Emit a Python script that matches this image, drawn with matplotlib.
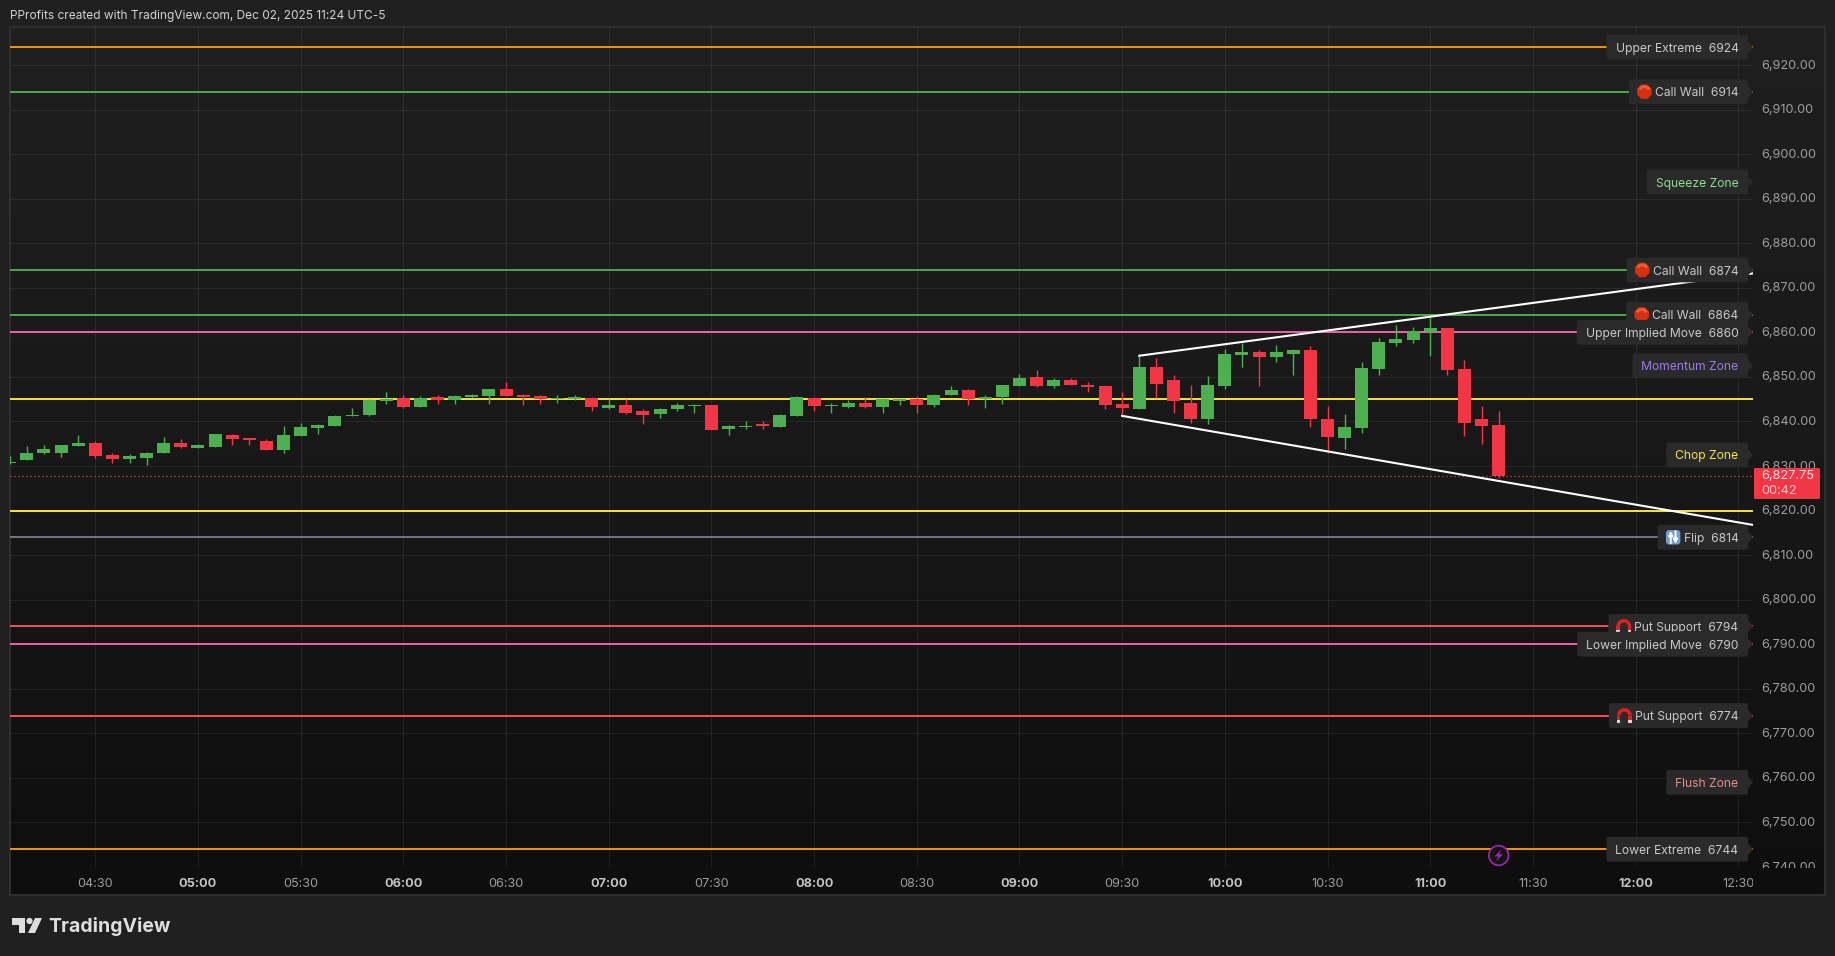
import matplotlib
matplotlib.use("Agg")
import matplotlib.pyplot as plt
from matplotlib.patches import Circle, FancyBboxPatch, Polygon, Rectangle, RegularPolygon, Wedge
from matplotlib.transforms import Bbox, ScaledTranslation
import numpy as np

plt.rcParams['font.family'] = ['Inter', 'DejaVu Sans']

# 5 minute candles, first one at 04:05 (minutes since midnight)
first_candle = 245
opens = [6830.75, 6831.25, 6833, 6833, 6834.5, 6835.25, 6832.5, 6831.5, 6831.75, 6833, 6835.25, 6834,
         6834.25, 6837, 6836.25, 6835.5, 6833.5, 6836.75, 6838.5, 6839, 6841.25, 6841.5, 6844.5, 6845.25,
         6843.25, 6845.5, 6844.75, 6845.5, 6845.75, 6847.25, 6846, 6845.75, 6845, 6845, 6845.25, 6843,
         6843.75, 6842.25, 6841.75, 6842.75, 6843.5, 6843.75, 6838.25, 6838.75, 6839.5, 6838.75, 6841.25, 6845.25,
         6843.5, 6843.25, 6844.25, 6843.25, 6844.5, 6845, 6843.75, 6846, 6847, 6845, 6845.5, 6848,
         6850, 6848, 6849.25, 6848.25, 6848, 6844, 6842.75, 6852.25, 6849.25, 6844.25, 6840.5, 6848,
         6855, 6855.5, 6854.5, 6855.25, 6856, 6840.5, 6836.25, 6838.5, 6851.75, 6857.5, 6858.25, 6860,
         6861, 6851.75, 6840.5, 6839.25]
highs = [6832.25, 6834.5, 6834.75, 6834.75, 6837, 6835.5, 6833, 6832.75, 6833.25, 6836.5, 6836, 6835,
         6837.25, 6837.25, 6836.25, 6836, 6839, 6839.75, 6839.5, 6841.5, 6843, 6845, 6846.5, 6846,
         6845.75, 6846, 6846, 6846.25, 6847.25, 6848.75, 6846.25, 6846, 6846, 6846, 6845.5, 6845,
         6845, 6842.75, 6843, 6844.25, 6844, 6843.75, 6839.25, 6840, 6840, 6841.75, 6845.75, 6845.5,
         6844.25, 6844.75, 6845.5, 6845.25, 6845.25, 6845.75, 6846.25, 6848, 6847.25, 6846, 6848.25, 6850.75,
         6851.5, 6849.75, 6849.75, 6848.75, 6848.25, 6846.5, 6854.75, 6854.25, 6850.5, 6848.25, 6850.25, 6856.25,
         6857.5, 6856, 6857.25, 6856.25, 6857, 6843.5, 6841.75, 6853.25, 6858.75, 6861.75, 6861.25, 6863.5,
         6861, 6853.75, 6843.5, 6842.25]
lows = [6830.5, 6831.25, 6832.75, 6832, 6834.5, 6831.75, 6830.75, 6830.75, 6830.25, 6833, 6834, 6834,
        6834.25, 6834.75, 6834.75, 6833.5, 6833, 6836.75, 6837.25, 6839, 6841.25, 6841.25, 6844, 6843,
        6843.25, 6844, 6844, 6845.25, 6844, 6845.75, 6843.75, 6844, 6844.25, 6844.75, 6842.25, 6842.75,
        6841.75, 6839.5, 6840.75, 6842.25, 6842, 6838, 6837, 6838.25, 6838.25, 6838.75, 6841.25, 6842.25,
        6842, 6843, 6843, 6842, 6843.75, 6842, 6843.25, 6846, 6843.75, 6843, 6844, 6848,
        6847.75, 6847.5, 6848.25, 6846.5, 6842.75, 6841.25, 6842.75, 6845.25, 6842, 6839.75, 6839.5, 6847.25,
        6852.25, 6848, 6853.25, 6850.5, 6838.75, 6833, 6833.75, 6837.5, 6850.5, 6857, 6857.5, 6854.75,
        6850.5, 6836.75, 6835, 6827.25]
closes = [6831, 6833, 6833.75, 6834.75, 6835.25, 6832.25, 6831.5, 6832.25, 6833, 6835.25, 6834.25, 6834.75,
          6837.25, 6836, 6835.75, 6833.5, 6837, 6838.75, 6839.25, 6841.25, 6841.5, 6844.75, 6845, 6843.25,
          6845.25, 6844.75, 6845.75, 6846, 6847.25, 6845.75, 6845.5, 6845, 6845.25, 6845.5, 6843.25, 6843.75,
          6842, 6841.5, 6842.75, 6843.75, 6843.75, 6838, 6839, 6839, 6839, 6841.5, 6845.5, 6843.5,
          6843.75, 6844.25, 6843.25, 6845, 6845, 6843.75, 6846, 6847, 6845, 6845.5, 6848.25, 6849.75,
          6848, 6849.25, 6848.25, 6847.75, 6843.75, 6843, 6852.25, 6848.5, 6844.5, 6840.5, 6848.25, 6855.25,
          6855.5, 6854.5, 6855.5, 6856, 6840.5, 6836.5, 6838.75, 6852, 6857.75, 6858.5, 6860.25, 6861,
          6851.5, 6839.75, 6839, 6827.75]
last_price = 6827.75

# horizontal levels
level_prices = [6924, 6914, 6874, 6864, 6860, 6845, 6820, 6814, 6794, 6790, 6774, 6744]
level_colors = ['#FF9800', '#4CAF50', '#4CAF50', '#4CAF50', '#FF5FB4', '#FFEB3B',
                '#FFEB3B', '#787B86', '#FF5252', '#FF5FB4', '#FF5252', '#FF9800']

# labels on the right, drawn in this order
tag_labels = ['Upper Extreme  6924', 'Call Wall  6914', 'Squeeze Zone', 'Call Wall  6874', 'Call Wall  6864',
              'Upper Implied Move  6860', 'Momentum Zone', 'Chop Zone', 'Flip  6814', 'Put Support  6794',
              'Lower Implied Move  6790', 'Put Support  6774', 'Flush Zone', 'Lower Extreme  6744']
tag_prices = [6924, 6914, 6893.75, 6874, 6864, 6860, 6852.5, 6832.5, 6814, 6794, 6790, 6774, 6759, 6744]
tag_colors = ['#c8c8c8', '#c8c8c8', '#8fdc8f', '#c8c8c8', '#c8c8c8', '#c8c8c8', '#9b7be8', '#f2e33c',
              '#c8c8c8', '#c8c8c8', '#c8c8c8', '#c8c8c8', '#e98a8a', '#c8c8c8']
tag_icons = [None, 'stop', None, 'stop', 'stop', None, None, None, 'flip', 'magnet', None, 'magnet', None, None]

# the two trend lines
upper_trend_t = [575, 754.5]
upper_trend_p = [6854.75, 6873.25]
lower_trend_t = [570, 754.5]
lower_trend_p = [6841.25, 6816.75]

price_ticks = list(range(6740, 6921, 10))
time_ticks = list(range(270, 751, 30))
time_labels = ['04:30', '05:00', '05:30', '06:00', '06:30', '07:00', '07:30', '08:00', '08:30',
               '09:00', '09:30', '10:00', '10:30', '11:00', '11:30', '12:00', '12:30']

W, H = 1835, 956
PAGE = '#202020'
GREEN = '#4CAF50'
RED = '#F23645'
AXIS_TEXT = '#9c9c9c'

fig = plt.figure(figsize=(W / 100, H / 100), dpi=100, facecolor=PAGE)

# background panel with the vertical gradient, in pixel coordinates
bg = fig.add_axes([0, 0, 1, 1], zorder=0)
bg.set_xlim(0, W)
bg.set_ylim(H, 0)
bg.axis('off')
grad = np.linspace(0, 1, 256).reshape(-1, 1)
bg.imshow(grad, extent=(10, 1825, 895, 27), aspect='auto', cmap=matplotlib.colors.LinearSegmentedColormap.from_list(
    'panel', ['#1f1f1f', '#181818', '#0e0e0e']), zorder=0)
bg.set_xlim(0, W)
bg.set_ylim(H, 0)
bg.add_patch(Rectangle((9.5, 26.5), 1815.5, 868.5, fill=False, ec='#2e2e2e', lw=1.5, zorder=1))

# main chart
ax = fig.add_axes([10 / W, 1 - 867 / H, 1743 / W, 840 / H], zorder=1)
ax.patch.set_alpha(0)
ax.set_xlim(245.08, 754.3)
ax.set_ylim(6740, 6928.53)
for s in ax.spines.values():
    s.set_visible(False)
ax.yaxis.tick_right()
ax.set_yticks(price_ticks)
ax.set_yticklabels([f'{p:,.2f}' for p in price_ticks])
ax.set_xticks(time_ticks)
ax.set_xticklabels(time_labels)
ax.tick_params(axis='y', length=0, pad=5.8, labelsize=9.2, labelcolor=AXIS_TEXT)
ax.tick_params(axis='x', length=0, pad=8, labelsize=9.1, labelcolor=AXIS_TEXT)
ax.grid(True, color='white', alpha=0.07, lw=0.8)
ax.set_axisbelow(True)

# bold hour labels, and cut the labels at the edge of the plot like the original
fig.canvas.draw()
clip = Bbox([[0, 0], [1753, H - 0]])
for lab, t in zip(ax.get_xticklabels(), time_ticks):
    if t % 60 == 0:
        lab.set_fontweight('bold')
        lab.set_color('#c4c4c4')
    lab.set_clip_box(clip)
    lab.set_clip_on(True)
nudge_up = ScaledTranslation(0, 1 / 100, fig.dpi_scale_trans)
for lab in ax.get_yticklabels():
    lab.set_transform(lab.get_transform() + nudge_up)
    lab.set_clip_box(Bbox([[0, H - 868], [W, H]]))
    lab.set_clip_on(True)

# levels, last price, candles, trend lines
for p, c in zip(level_prices, level_colors):
    ax.axhline(p, color=c, lw=1.35, zorder=2)
ax.axhline(last_price, color=RED, lw=0.9, ls=(0, (1, 2.2)), zorder=2)

o = np.array(opens)
c = np.array(closes)
times = first_candle + 5 * np.arange(len(o))
colors = [GREEN if b >= a else RED for a, b in zip(o, c)]
ax.vlines(times, lows, highs, colors=colors, lw=1.0, zorder=3)
ax.bar(times, np.abs(c - o), bottom=np.minimum(o, c), width=3.8, color=colors, lw=0, zorder=4)

ax.plot(upper_trend_t, upper_trend_p, color='white', lw=1.5, zorder=5)
ax.plot(lower_trend_t, lower_trend_p, color='white', lw=1.5, zorder=5)

# overlay in pixels for the tags, price box and texts
ov = fig.add_axes([0, 0, 1, 1], zorder=2)
ov.patch.set_alpha(0)
ov.set_xlim(0, W)
ov.set_ylim(H, 0)
ov.axis('off')


def price_y(p):
    return H - ax.transData.transform((ax.get_xlim()[0], p))[1]


def time_x(t):
    return ax.transData.transform((t, ax.get_ylim()[0]))[0]


def draw_icon(kind, x, y, z):
    # y grows downwards here, so the upper half of a wedge is 180-360
    if kind == 'stop':
        ov.add_patch(RegularPolygon((x, y), 8, radius=7.8, orientation=np.pi / 8, fc='#d8300e', ec='none', zorder=z))
        ov.add_patch(Wedge((x, y), 6.6, 205, 335, width=3, fc='#ee5a36', ec='none', zorder=z))
    elif kind == 'magnet':
        ov.add_patch(Wedge((x, y), 7.4, 180, 360, width=3.5, fc='#dd2222', ec='none', zorder=z))
        ov.add_patch(Rectangle((x - 7.4, y), 3.5, 4, fc='#dd2222', ec='none', zorder=z))
        ov.add_patch(Rectangle((x + 3.9, y), 3.5, 4, fc='#dd2222', ec='none', zorder=z))
        ov.add_patch(Rectangle((x - 7.4, y + 4), 3.5, 3, fc='#d8d8d8', ec='none', zorder=z))
        ov.add_patch(Rectangle((x + 3.9, y + 4), 3.5, 3, fc='#d8d8d8', ec='none', zorder=z))
    elif kind == 'flip':
        ov.add_patch(FancyBboxPatch((x - 7.2, y - 7.2), 14.4, 14.4, boxstyle='round,pad=0,rounding_size=3',
                                    fc='#6f9fcf', ec='none', zorder=z))
        ov.annotate('', (x - 2.4, y - 6.5), (x - 2.4, y + 6), zorder=z,
                    arrowprops=dict(arrowstyle='-|>', color='white', lw=1.4, mutation_scale=6, shrinkA=0, shrinkB=0))
        ov.annotate('', (x + 2.4, y + 6.5), (x + 2.4, y - 6), zorder=z,
                    arrowprops=dict(arrowstyle='-|>', color='white', lw=1.4, mutation_scale=6, shrinkA=0, shrinkB=0))


renderer = fig.canvas.get_renderer()
tag_fill = '#2a2a2a'
for i, (label, p, col, icon) in enumerate(zip(tag_labels, tag_prices, tag_colors, tag_icons)):
    z = 10 + i
    y = price_y(p)
    txt = ov.text(1738.5, y + 1.6, label, color=col, ha='right', va='center', fontsize=8.72, zorder=z + 0.5)
    left = txt.get_window_extent(renderer).x0
    tag_left = left - (26 if icon else 9)
    ov.add_patch(FancyBboxPatch((tag_left, y - 12.4), 1748 - tag_left, 24.8,
                                boxstyle='round,pad=0,rounding_size=2.5', fc=tag_fill, ec='none', zorder=z))
    ov.add_patch(Polygon([[1747, y - 7], [1753, y], [1747, y + 7]], fc=tag_fill, ec='none', zorder=z))
    if icon:
        draw_icon(icon, left - 10.5, y, z + 0.2)

# box with the last price and the countdown
box_y = price_y(last_price)
ov.add_patch(FancyBboxPatch((1754, 468), 66, 31, boxstyle='round,pad=0,rounding_size=1.5',
                            fc=RED, ec='none', zorder=40))
ov.text(1761, box_y, f'{last_price:,.2f}', color='#ffdfe2', ha='left', va='center', fontsize=9.2, zorder=41)
ov.text(1761, box_y + 14.5, '00:42', color='#ffc4ca', ha='left', va='center', fontsize=9.2, zorder=41)

# lightning marker near the lower extreme line
bolt_x, bolt_y = time_x(680), price_y(6744) + 6.3
ov.add_patch(Circle((bolt_x, bolt_y), 9.8, fc='#141414', ec='#9c27b0', lw=1.2, zorder=8))
ov.add_patch(Polygon([[bolt_x + 2.6, bolt_y - 6], [bolt_x - 4.2, bolt_y + 1], [bolt_x - 0.4, bolt_y + 1],
                      [bolt_x - 2.6, bolt_y + 6], [bolt_x + 4.2, bolt_y - 1.2], [bolt_x + 0.5, bolt_y - 1.2]],
                     fc='#9c27b0', ec='none', zorder=8.5))

# header and logo
ov.text(10, 15.7, 'PProfits created with TradingView.com, Dec 02, 2025 11:24 UTC-5', color='#d2d2d2',
        ha='left', va='center', fontsize=8.55)
ov.add_patch(Polygon([[12, 918], [25, 918], [25, 933], [19, 933], [19, 925], [12, 925]], fc='#dedede', ec='none'))
ov.add_patch(Circle((29.5, 921), 3.1, fc='#dedede', ec='none'))
ov.add_patch(Polygon([[35, 918], [42, 918], [35, 933], [28, 933]], fc='#dedede', ec='none'))
ov.text(48, 926, 'TradingView', color='#dedede', ha='left', va='center', fontsize=14, fontweight='bold')

fig.savefig('out.png', dpi=100, facecolor=PAGE)
